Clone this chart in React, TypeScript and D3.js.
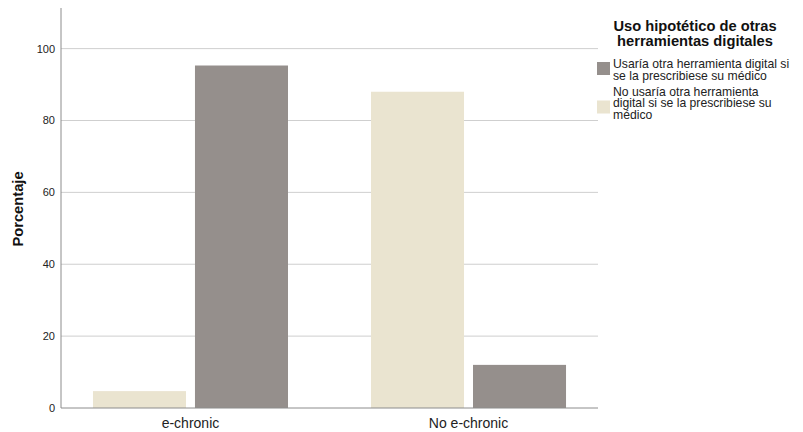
import React from "react";
import * as d3 from "d3";

const categories = ["e-chronic", "No e-chronic"];
const seriesNames = [
  "No usaría otra herramienta digital si se la prescribiese su médico",
  "Usaría otra herramienta digital si se la prescribiese su médico",
];
const noUsariaValues = [4.7, 88.0];
const usariaValues = [95.3, 12.0];
const yTicks = [0, 20, 40, 60, 80, 100];
const legendTitle = ["Uso hipotético de otras", "herramientas digitales"];
const legendUsaria = ["Usaría otra herramienta digital si", "se la prescribiese su médico"];
const legendNoUsaria = ["No usaría otra herramienta", "digital si se la prescribiese su", "médico"];

const W = 803;
const H = 432;
const plotLeft = 61;
const plotRight = 598;
const plotTop = 8;
const plotBottom = 408;
const font = "'Liberation Sans', Arial, Helvetica, sans-serif";
const colors = ["#eae4d0", "#958f8c"];

export default function App() {
  const y = d3.scaleLinear().domain([0, 111.3]).range([plotBottom, plotTop]);
  const x0 = d3
    .scaleBand<string>()
    .domain(categories)
    .range([plotLeft, plotRight])
    .paddingInner(0.2986)
    .paddingOuter(0.115);
  const x1 = d3
    .scaleBand<string>()
    .domain(seriesNames)
    .range([0, x0.bandwidth()])
    .paddingInner(0.088)
    .paddingOuter(0);
  const seriesValues = [noUsariaValues, usariaValues];

  return (
    <svg
      width={W}
      height={H}
      style={{ position: "absolute", left: 0, top: 0, background: "#fff" }}
      fontFamily={font}
    >
      {yTicks
        .filter((t) => t > 0)
        .map((t) => (
          <line
            key={"g" + t}
            x1={plotLeft}
            x2={plotRight}
            y1={y(t)}
            y2={y(t)}
            stroke="#cfcfcf"
            strokeWidth={1}
          />
        ))}
      {yTicks.map((t) => (
        <text
          key={"t" + t}
          x={55}
          y={y(t)}
          dy="0.36em"
          textAnchor="end"
          fontSize={11}
          fill="#222"
        >
          {t}
        </text>
      ))}
      {categories.map((c, ci) =>
        seriesNames.map((s, si) => {
          const v = seriesValues[si][ci];
          return (
            <rect
              key={c + s}
              x={(x0(c) as number) + (x1(s) as number)}
              y={y(v)}
              width={x1.bandwidth()}
              height={plotBottom - y(v)}
              fill={colors[si]}
            />
          );
        })
      )}
      <line x1={plotLeft} x2={plotLeft} y1={plotTop} y2={plotBottom} stroke="#8c8c8c" strokeWidth={1} />
      <line x1={plotLeft} x2={plotRight} y1={plotBottom} y2={plotBottom} stroke="#8c8c8c" strokeWidth={1} />
      {categories.map((c) => (
        <text
          key={"x" + c}
          x={(x0(c) as number) + x0.bandwidth() / 2}
          y={428}
          textAnchor="middle"
          fontSize={14}
          fill="#222"
        >
          {c}
        </text>
      ))}
      <text
        transform={`translate(23,${(plotTop + plotBottom) / 2 + 1}) rotate(-90)`}
        textAnchor="middle"
        fontSize={14.7}
        fontWeight="bold"
        fill="#111"
      >
        Porcentaje
      </text>
      {legendTitle.map((l, i) => (
        <text
          key={"lt" + i}
          x={695}
          y={30.5 + i * 15.5}
          textAnchor="middle"
          fontSize={14.7}
          fontWeight="bold"
          fill="#111"
        >
          {l}
        </text>
      ))}
      <rect x={597} y={62} width={13} height={13} fill={colors[1]} />
      {legendUsaria.map((l, i) => (
        <text key={"lu" + i} x={613} y={68 + i * 12} fontSize={12.2} fill="#222">
          {l}
        </text>
      ))}
      <rect x={597} y={100.5} width={13} height={13} fill={colors[0]} />
      {legendNoUsaria.map((l, i) => (
        <text key={"ln" + i} x={613} y={95.5 + i * 11.5} fontSize={12.2} fill="#222">
          {l}
        </text>
      ))}
    </svg>
  );
}
